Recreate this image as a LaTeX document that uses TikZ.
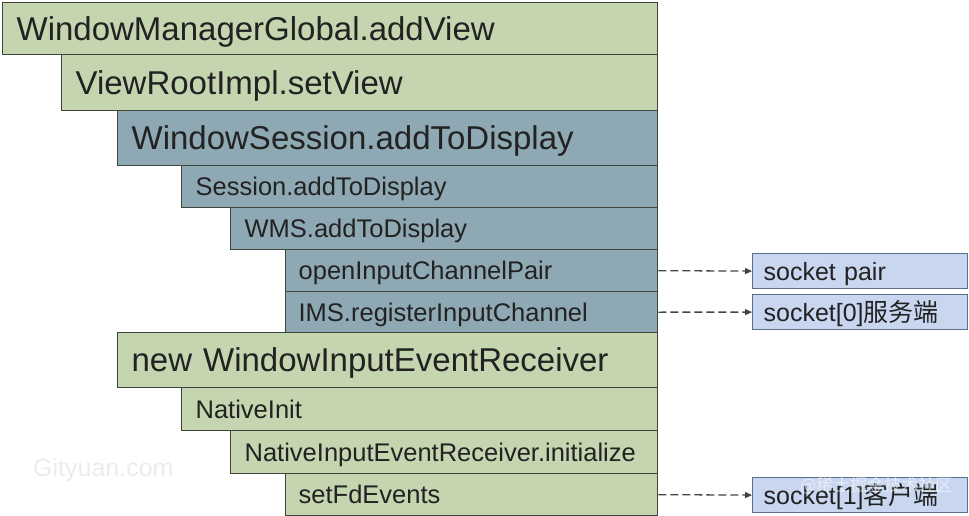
\documentclass[tikz,border=0pt]{standalone}
\usepackage{fontspec}
\setmainfont{Liberation Sans}
\newfontfamily\cjk{Noto Sans CJK SC}
\usetikzlibrary{arrows.meta}
\definecolor{gfill}{HTML}{C4D5AF}
\definecolor{bfill}{HTML}{8EA8B4}
\definecolor{sfill}{HTML}{C8D6F0}
\definecolor{sline}{HTML}{5C6E8F}
\definecolor{bline}{HTML}{3E463C}
\definecolor{txt}{HTML}{222222}
\definecolor{wm}{HTML}{ECECEC}
\tikzset{
  basebox/.style={draw=bline, line width=1.3pt, anchor=north west, inner xsep=14pt, inner ysep=0pt,
    align=left, text=txt, text depth=0pt},
  big/.style={font=\fontsize{33}{39}\selectfont, text height=23.5pt},
  small/.style={font=\fontsize{25.5}{30}\selectfont, text height=18pt},
  gbox/.style={basebox, fill=gfill},
  bbox/.style={basebox, fill=bfill},
  sockbox/.style={draw=sline, line width=1.2pt, fill=sfill, anchor=north west, inner xsep=11pt, inner ysep=0pt,
    align=left, text=txt, text depth=0pt, font=\fontsize{25}{30}\selectfont, text height=18pt,
    text width=193pt, minimum height=35pt},
  dasharrow/.style={draw=txt!85, line width=1.3pt, dash pattern=on 8pt off 4pt, -{Triangle[length=7pt,width=6pt]}}
}
\begin{document}
\begin{tikzpicture}[x=1pt,y=-1pt]
\useasboundingbox (0,0) rectangle (969,516);
% watermark
\node[anchor=west, text=wm, font=\fontsize{25}{30}\selectfont, inner sep=0pt] (wm1) at (33,470) {Gityuan.com};
% boxes
\node[gbox, big, text width=627pt, minimum height=52pt] (b1) at (2,2) {WindowManagerGlobal.addView};
\node[gbox, big, text width=568pt, minimum height=56pt] (b2) at (61,54) {ViewRootImpl.setView};
\node[bbox, big, text width=512pt, minimum height=55pt] (b3) at (117,110) {WindowSession.addToDisplay};
\node[bbox, small, text width=448pt, minimum height=42pt] (b4) at (181,165) {Session.addToDisplay};
\node[bbox, small, text width=399pt, minimum height=42pt] (b5) at (230,207) {WMS.addToDisplay};
\node[bbox, small, text width=346pt, minimum height=42pt, inner xsep=13pt] (b6) at (285,249) {openInputChannelPair};
\node[bbox, small, text width=346pt, minimum height=41pt, inner xsep=13pt] (b7) at (285,291) {IMS.registerInputChannel};
\node[gbox, big, text width=512pt, minimum height=55pt] (b8) at (117,332) {new WindowInputEventReceiver};
\node[gbox, small, text width=448pt, minimum height=43pt] (b9) at (181,387) {NativeInit};
\node[gbox, small, text width=399pt, minimum height=43pt] (b10) at (230,430) {NativeInputEventReceiver.initialize};
\node[gbox, small, text width=346pt, minimum height=42pt, inner xsep=13pt] (b11) at (285,473) {setFdEvents};
% socket boxes
\node[sockbox] (s1) at (752,253) {socket pair};
\node[sockbox] (s2) at (752,294) {socket[0]{\cjk 服务端}};
\node[sockbox] (s3) at (752,477) {socket[1]{\cjk 客户端}};
% arrows
\draw[dasharrow] (b6.east) -- (s1.west);
\draw[dasharrow] (b7.east) -- (s2.west);
\draw[dasharrow] (b11.east) -- (s3.west);
% watermark on last box
\node[anchor=west, text=white, opacity=0.55, font=\cjk\fontsize{17}{20}\selectfont, inner sep=0pt] (wm2) at (800,486) {@稀土掘金技术社区};
\end{tikzpicture}
\end{document}
